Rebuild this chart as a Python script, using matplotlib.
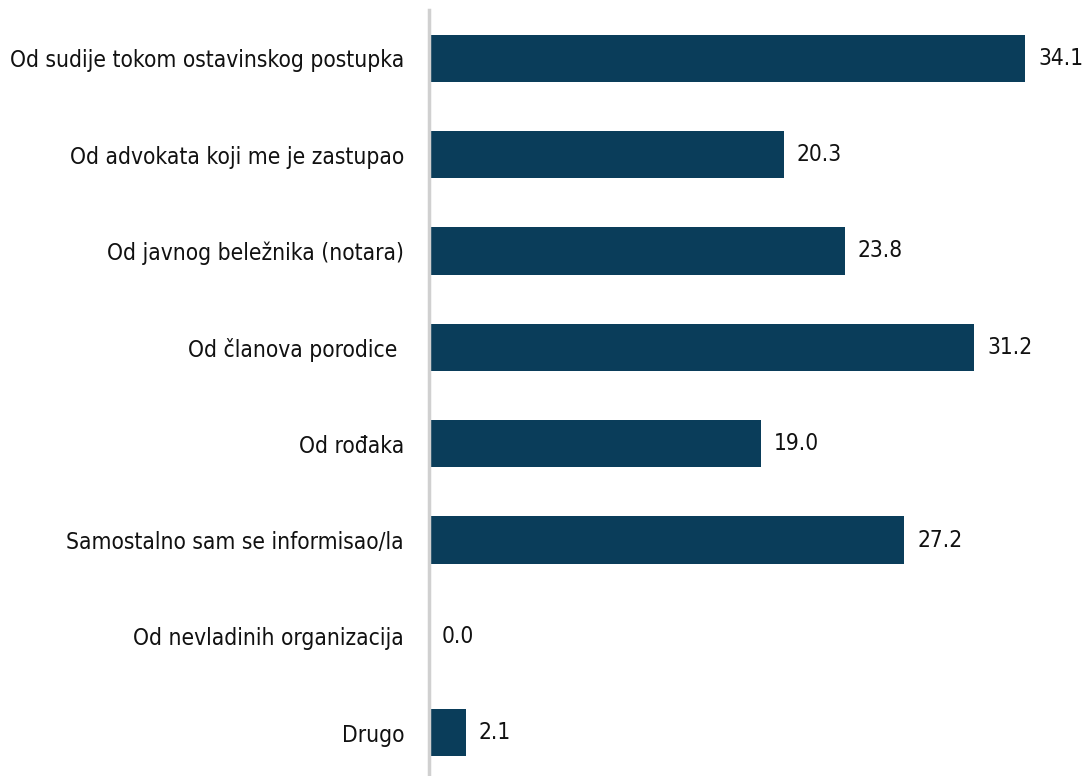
import matplotlib
matplotlib.use("Agg")
import matplotlib.pyplot as plt
from matplotlib import font_manager as fm

categories = [
    "Od sudije tokom ostavinskog postupka",
    "Od advokata koji me je zastupao",
    "Od javnog beležnika (notara)",
    "Od članova porodice ",
    "Od rođaka",
    "Samostalno sam se informisao/la",
    "Od nevladinih organizacija",
    "Drugo",
]
values = [34.1, 20.3, 23.8, 31.2, 19.0, 27.2, 0.0, 2.1]

FS = 16.3

# pick DejaVu Sans Condensed (regular) deterministically if present
cond_path = None
for f in fm.fontManager.ttflist:
    fn = f.fname.lower()
    if 'dejavusanscondensed.ttf' in fn.replace('-', ''):
        cond_path = f.fname
        break
if cond_path is None:
    for f in fm.fontManager.ttflist:
        if f.name == 'DejaVu Sans' and str(f.stretch) in ('condensed', '500') \
                and f.weight in (400, 'normal') and f.style == 'normal':
            cond_path = f.fname
            break

if cond_path:
    fp = fm.FontProperties(fname=cond_path, size=FS)
else:
    fp = fm.FontProperties(family='DejaVu Sans', size=FS - 1.2)

fig = plt.figure(figsize=(10.89, 7.76), dpi=100)
x0 = 429 / 1089
ax = fig.add_axes([x0, -5 / 776, 1 - x0, 771 / 776])

ypos = list(range(len(categories)))
ax.barh(ypos, values, height=0.49, color="#0A3D5A")
ax.set_ylim(len(categories) - 0.5, -0.5)
ax.set_xlim(0, 37.76)

ax.set_yticks(ypos)
ax.set_yticklabels(categories, color="#111111")
for t in ax.get_yticklabels():
    t.set_fontproperties(fp)
ax.tick_params(axis='y', length=0, pad=18)
ax.set_xticks([])

for s in ['top', 'right', 'bottom']:
    ax.spines[s].set_visible(False)
ax.spines['left'].set_color('#D0D0D0')
ax.spines['left'].set_linewidth(2.5)

for y, v in zip(ypos, values):
    ax.annotate(f"{v:.1f}", xy=(v, y), xytext=(13, 0), textcoords='offset pixels',
                va='center', ha='left', color="#111111",
                fontproperties=fp, annotation_clip=False)

fig.savefig("out.png", dpi=100)
